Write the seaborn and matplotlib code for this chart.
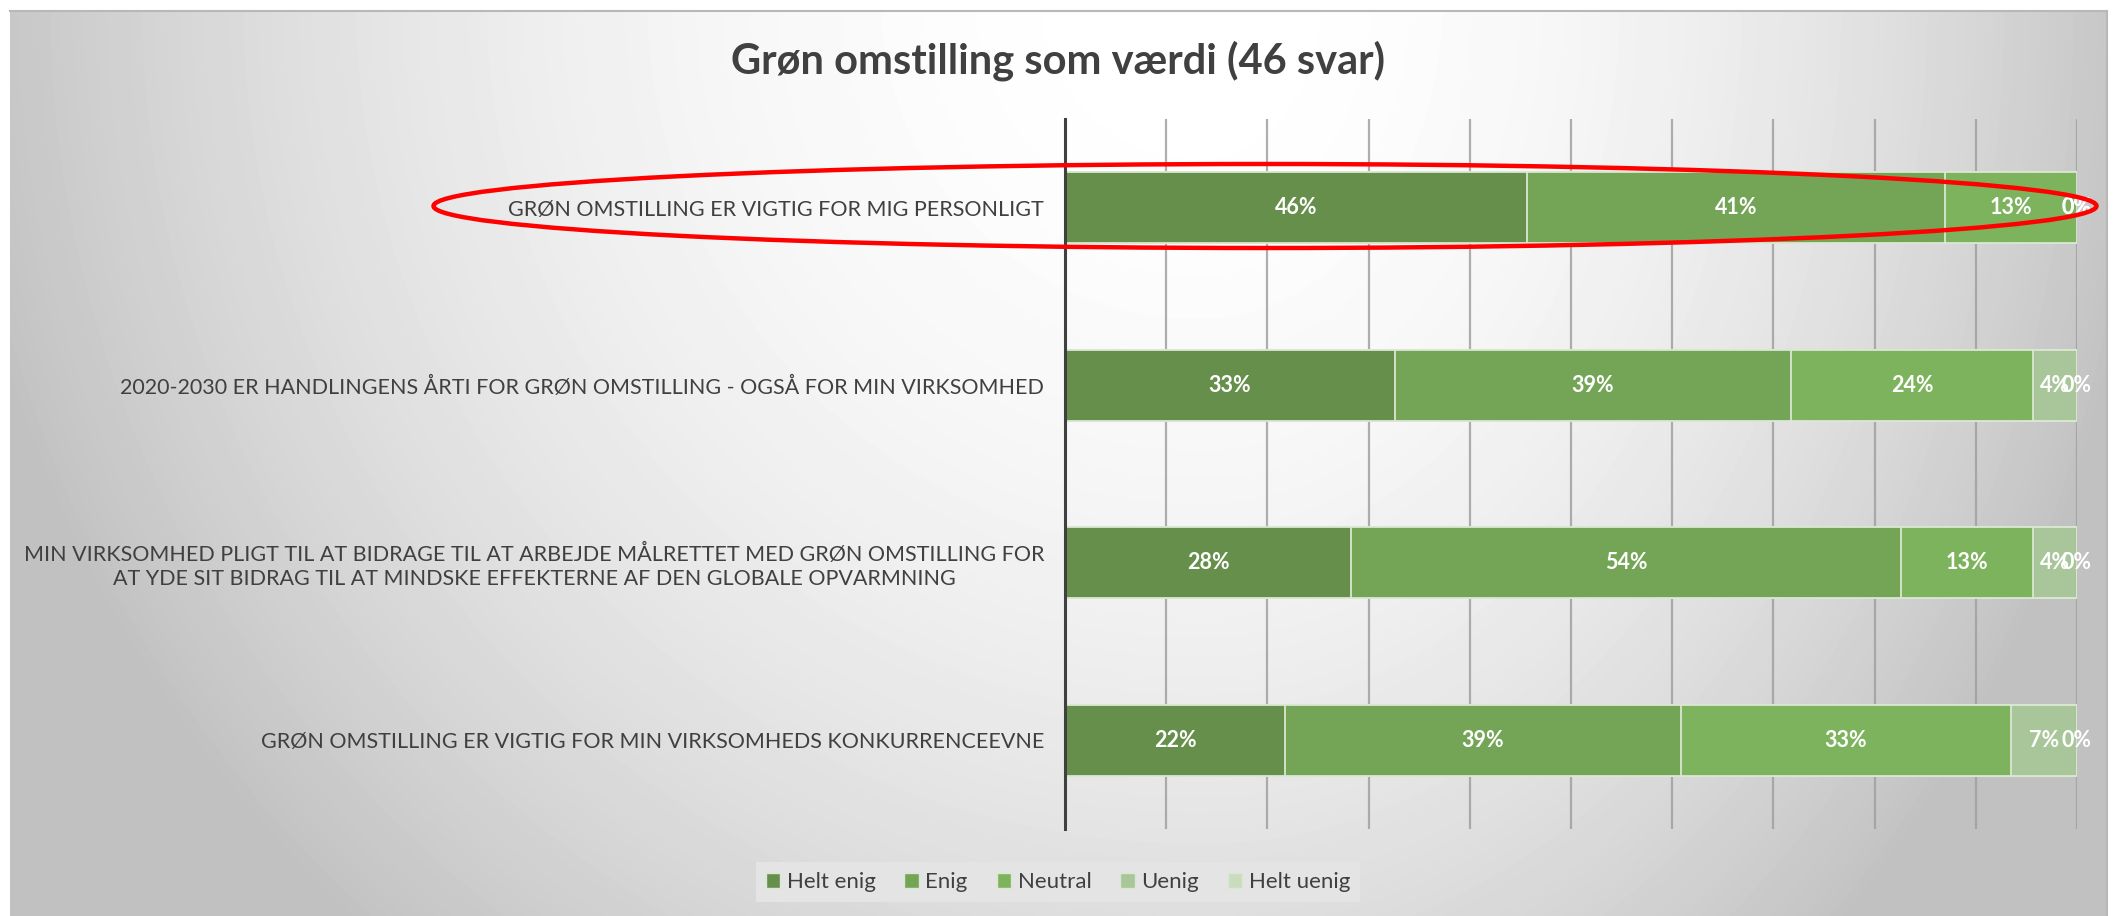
import matplotlib
matplotlib.use('Agg')
import matplotlib.pyplot as plt
from matplotlib.patches import Ellipse, Patch
import numpy as np
import pandas as pd
import seaborn as sns

# survey answers, counted out of 46 responses
statements = [
    'GRØN OMSTILLING ER VIGTIG FOR MIG PERSONLIGT',
    '2020-2030 ER HANDLINGENS ÅRTI FOR GRØN OMSTILLING - OGSÅ FOR MIN VIRKSOMHED',
    'MIN VIRKSOMHED PLIGT TIL AT BIDRAGE TIL AT ARBEJDE MÅLRETTET MED GRØN OMSTILLING FOR\n'
    'AT YDE SIT BIDRAG TIL AT MINDSKE EFFEKTERNE AF DEN GLOBALE OPVARMNING',
    'GRØN OMSTILLING ER VIGTIG FOR MIN VIRKSOMHEDS KONKURRENCEEVNE',
]
answers = ['Helt enig', 'Enig', 'Neutral', 'Uenig', 'Helt uenig']
n_resp = 46
helt_enig = [21, 15, 13, 10]
enig = [19, 18, 25, 18]
neutral = [6, 11, 6, 15]
uenig = [0, 2, 2, 3]
helt_uenig = [0, 0, 0, 0]

colors = ['#668f4c', '#74a556', '#7db35d', '#a8c699', '#c9dcc0']
text_col = '#404040'

counts = np.array([helt_enig, enig, neutral, uenig, helt_uenig])
pct = counts / n_resp * 100
cum = pct.cumsum(axis=0)

rows = []
for a, ans in enumerate(answers):
    for s, stm in enumerate(statements):
        rows.append({'statement': stm, 'answer': ans, 'pct': pct[a, s],
                     'end': cum[a, s], 'mid': cum[a, s] - pct[a, s] / 2})
df = pd.DataFrame(rows)

W, H = 2113, 916
fig = plt.figure(figsize=(W / 100, H / 100), dpi=100)
fig.patch.set_facecolor('white')

# gradient background panel
bg = fig.add_axes([10 / W, 0, 2097 / W, 905 / H], zorder=-1)
xs = np.arange(10, 2107)
ys = np.arange(11, 916)
X, Y = np.meshgrid(xs, ys)
cx = 1200
rx = np.where(X < cx, 1250, 950)
r2 = ((X - cx) / rx) ** 2 + (Y / 1250) ** 2
v = 1 - 0.24 * np.clip(r2, 0, 1)
bg.imshow(v, cmap='gray', vmin=0, vmax=1, aspect='auto', interpolation='bilinear')
bg.set_xticks([])
bg.set_yticks([])
for side in ['left', 'bottom']:
    bg.spines[side].set_visible(False)
for side in ['top', 'right']:
    bg.spines[side].set_color('#b8b8b8')
    bg.spines[side].set_linewidth(1.5)

ax = fig.add_axes([1065 / W, 1 - 829 / H, (2077 - 1065) / W, (829 - 119) / H])
ax.set_facecolor('none')

# stacked bars: draw cumulative ends, longest first
for ans, col in zip(answers[::-1], colors[::-1]):
    sns.barplot(data=df[df['answer'] == ans], x='end', y='statement',
                order=statements, orient='h', color=col, width=0.4,
                errorbar=None, edgecolor='#dbe7d3', linewidth=1.3,
                saturation=1, ax=ax, zorder=2)

for _, row in df.iterrows():
    i = statements.index(row['statement'])
    ax.text(row['mid'], i, f"{round(row['pct'])}%", ha='center', va='center',
            color='white', fontsize=15.5, fontweight='bold', family='Lato', zorder=4)

ax.set_xlim(0, 100)
ax.set_ylim(3.5, -0.5)
ax.set_xticks(range(0, 101, 10))
ax.grid(axis='x', color='#a0a0a0', lw=1.6, alpha=0.85, zorder=0)
ax.set_axisbelow(True)
ax.tick_params(axis='x', length=0, labelbottom=False)
ax.tick_params(axis='y', length=0, pad=15, labelsize=15.5, labelcolor=text_col)
for lab in ax.get_yticklabels():
    lab.set_family('Lato')
    lab.set_multialignment('center')
    lab.set_linespacing(1.25)
ax.set_xlabel('')
ax.set_ylabel('')
for side in ['top', 'right', 'bottom']:
    ax.spines[side].set_visible(False)
ax.spines['left'].set_color(text_col)
ax.spines['left'].set_linewidth(2.2)
ax.spines['left'].set_zorder(5)

fig.text(1058 / W, 1 - 61 / H, 'Grøn omstilling som værdi (46 svar)', ha='center',
         va='center', fontsize=30, fontweight='bold', color=text_col, family='Lato')

handles = [Patch(facecolor=c, edgecolor='#dbe7d3', lw=1) for c in colors]
leg = fig.legend(handles, answers, loc='center', bbox_to_anchor=(1058 / W, 1 - 882 / H),
                 ncol=5, frameon=True, fancybox=False, facecolor='#e4e4e4',
                 edgecolor='none', framealpha=1, prop={'family': 'Lato', 'size': 16},
                 labelcolor=text_col, handlelength=0.65, handleheight=0.65,
                 handletextpad=0.3, columnspacing=1.3, borderpad=0.45)

# red highlight ring around the first statement
ring = Ellipse((1265 / W, 1 - 206 / H), 1663 / W, 84 / H, transform=fig.transFigure,
               fill=False, edgecolor='red', lw=3.2, zorder=10)
fig.patches.append(ring)

fig.savefig('out.png', dpi=100)
